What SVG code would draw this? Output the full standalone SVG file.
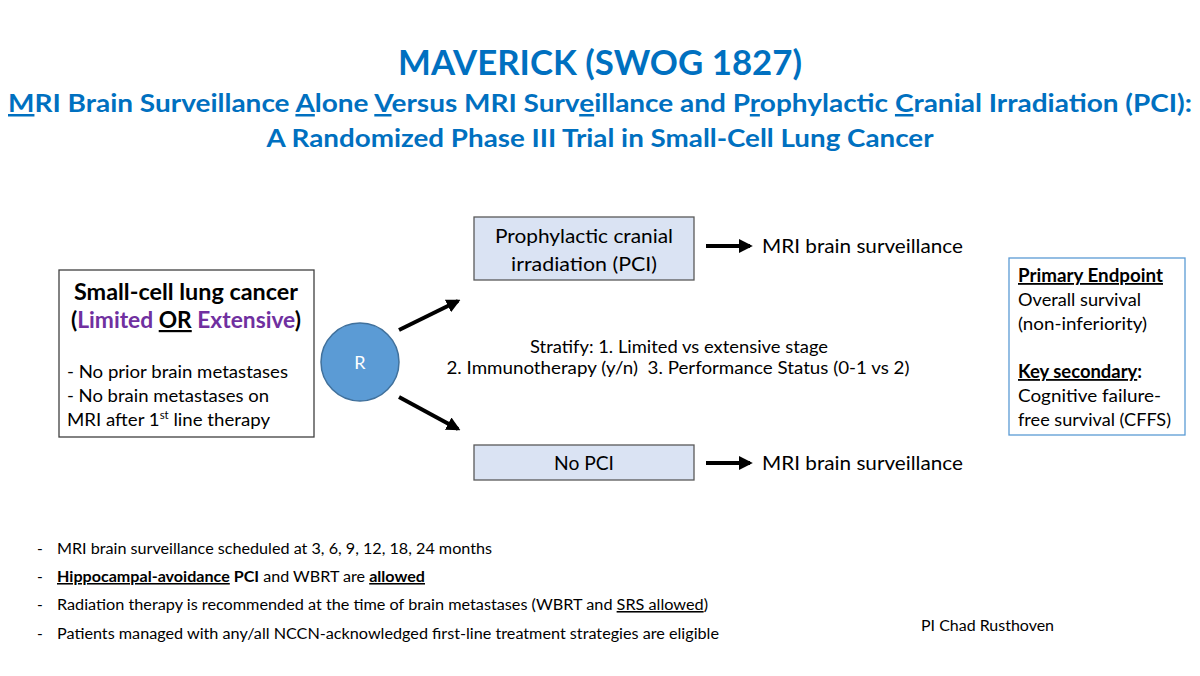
<svg xmlns="http://www.w3.org/2000/svg" width="1200" height="676" viewBox="0 0 1200 676">
<defs>
<style>
text{font-family:Lato,"Open Sans","Liberation Sans",sans-serif;fill:#000}
.t{fill:#0070C0;font-weight:bold}
.h1{font-size:35px}
.h2{font-size:25px}
.big{font-size:22px}
.u{text-decoration:underline}
.b{font-weight:bold}
.p{fill:#7030A0}
.m{font-size:20px}
.s{font-size:18px}
.f{font-size:15.5px}
.sup{font-size:11px}
.w{fill:#fff}
.box{fill:#fff;stroke:#404040;stroke-width:1.3}
.arm{fill:#DAE3F3;stroke:#595959;stroke-width:1.3}
.con{stroke:#000;stroke-width:4;fill:none}
</style>
<marker id="ah" viewBox="0 0 10 10" refX="8" refY="5" markerWidth="14" markerHeight="14" markerUnits="userSpaceOnUse" orient="auto">
<path d="M0,0 L10,5 L0,10 Z" fill="#000"/>
</marker>
</defs>
<rect width="1200" height="676" fill="#fff"/>
<g id="title">
<text class="t h1" x="600" y="75" text-anchor="middle" textLength="404" lengthAdjust="spacingAndGlyphs">MAVERICK (SWOG 1827)</text>
<text class="t h2" x="600" y="112" text-anchor="middle" textLength="1184" lengthAdjust="spacingAndGlyphs"><tspan class="u">M</tspan>RI Brain Surveillance <tspan class="u">A</tspan>lone <tspan class="u">V</tspan>ersus MRI Surv<tspan class="u">e</tspan>illance and P<tspan class="u">r</tspan>ophylact<tspan class="u">i</tspan>c <tspan class="u">C</tspan>ranial Irradiation (PCI):</text>
<text class="t h2" x="600" y="147" text-anchor="middle" textLength="667" lengthAdjust="spacingAndGlyphs">A Randomized Phase III Trial in Small-Cell Lung Cancer</text>
</g>
<g id="population">
<rect class="box" x="59" y="270" width="255" height="167"/>
<text class="b big" x="186" y="300" text-anchor="middle" textLength="224" lengthAdjust="spacingAndGlyphs">Small-cell lung cancer</text>
<text class="b big" x="186" y="328" text-anchor="middle" textLength="230" lengthAdjust="spacingAndGlyphs">(<tspan class="p">Limited </tspan><tspan class="u">OR</tspan><tspan class="p"> Extensive</tspan>)</text>
<text class="s" x="67" y="378" textLength="221" lengthAdjust="spacingAndGlyphs">- No prior brain metastases</text>
<text class="s" x="67" y="402" textLength="202" lengthAdjust="spacingAndGlyphs">- No brain metastases on</text>
<text class="s" x="67" y="426" textLength="203" lengthAdjust="spacingAndGlyphs">MRI after 1<tspan class="sup" dy="-7">st</tspan><tspan dy="7"> line therapy</tspan></text>
</g>
<g id="randomize">
<ellipse cx="360" cy="362" rx="39" ry="39" fill="#5B9BD5" stroke="#41719C" stroke-width="1.5"/>
<text class="s w" x="360" y="369" text-anchor="middle">R</text>
</g>
<g id="arm-pci">
<rect class="arm" x="474" y="217" width="220" height="63"/>
<text class="m" x="584" y="243" text-anchor="middle" textLength="178" lengthAdjust="spacingAndGlyphs">Prophylactic cranial</text>
<text class="m" x="584" y="271" text-anchor="middle" textLength="146" lengthAdjust="spacingAndGlyphs">irradiation (PCI)</text>
</g>
<g id="arm-nopci">
<rect class="arm" x="474" y="445" width="220" height="35"/>
<text class="m" x="584" y="470" text-anchor="middle" textLength="60" lengthAdjust="spacingAndGlyphs">No PCI</text>
</g>
<g id="outcome-1">
<text class="m" x="762" y="253" textLength="201" lengthAdjust="spacingAndGlyphs">MRI brain surveillance</text>
</g>
<g id="outcome-2">
<text class="m" x="762" y="470" textLength="201" lengthAdjust="spacingAndGlyphs">MRI brain surveillance</text>
</g>
<g id="stratify">
<text class="s" x="679" y="353" text-anchor="middle" textLength="298" lengthAdjust="spacingAndGlyphs">Stratify: 1. Limited vs extensive stage</text>
<text class="s" x="678" y="374" text-anchor="middle" textLength="463" lengthAdjust="spacingAndGlyphs">2. Immunotherapy (y/n)&#160; 3. Performance Status (0-1 vs 2)</text>
</g>
<g id="endpoints">
<rect x="1009" y="258" width="176" height="177" fill="#fff" stroke="#5B9BD5" stroke-width="1.3"/>
<text class="s b u" x="1018" y="282" textLength="145" lengthAdjust="spacingAndGlyphs">Primary Endpoint</text>
<text class="s" x="1018" y="306" textLength="123" lengthAdjust="spacingAndGlyphs">Overall survival</text>
<text class="s" x="1018" y="330" textLength="129" lengthAdjust="spacingAndGlyphs">(non-inferiority)</text>
<text class="s b" x="1018" y="378" textLength="124" lengthAdjust="spacingAndGlyphs"><tspan class="u">Key secondary</tspan>:</text>
<text class="s" x="1018" y="402" textLength="143" lengthAdjust="spacingAndGlyphs">Cognitive failure-</text>
<text class="s" x="1018" y="426" textLength="153" lengthAdjust="spacingAndGlyphs">free survival (CFFS)</text>
</g>
<g id="connectors">
<line class="con" x1="399" y1="330" x2="458" y2="301" marker-end="url(#ah)"/>
<line class="con" x1="399" y1="397" x2="458" y2="429" marker-end="url(#ah)"/>
<line class="con" x1="706" y1="246" x2="750" y2="246" marker-end="url(#ah)"/>
<line class="con" x1="706" y1="463" x2="750" y2="463" marker-end="url(#ah)"/>
</g>
<g id="notes">
<text class="f" x="37" y="554">-</text>
<text class="f" x="57" y="554" textLength="435" lengthAdjust="spacingAndGlyphs">MRI brain surveillance scheduled at 3, 6, 9, 12, 18, 24 months</text>
<text class="f" x="37" y="582">-</text>
<text class="f" x="57" y="582" textLength="368" lengthAdjust="spacingAndGlyphs"><tspan class="b u">Hippocampal-avoidance</tspan><tspan class="b"> PCI</tspan> and WBRT are <tspan class="b u">allowed</tspan></text>
<text class="f" x="37" y="610">-</text>
<text class="f" x="57" y="610" textLength="651" lengthAdjust="spacingAndGlyphs">Radiation therapy is recommended at the time of brain metastases (WBRT and <tspan class="u">SRS allowed</tspan>)</text>
<text class="f" x="37" y="639">-</text>
<text class="f" x="57" y="639" textLength="662" lengthAdjust="spacingAndGlyphs">Patients managed with any/all NCCN-acknowledged first-line treatment strategies are eligible</text>
<text class="f" x="921" y="631" textLength="133" lengthAdjust="spacingAndGlyphs">PI Chad Rusthoven</text>
</g>
</svg>
